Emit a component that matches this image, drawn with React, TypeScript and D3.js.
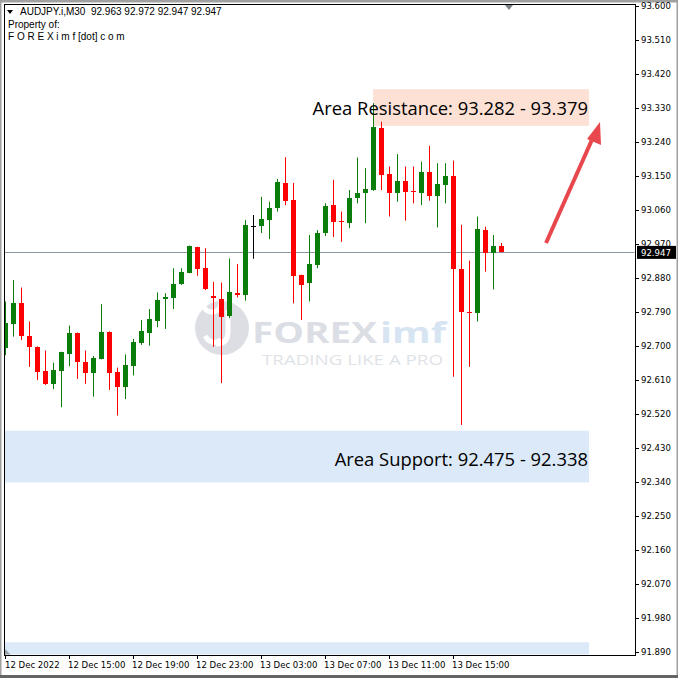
import React from "react";
import * as d3 from "d3";

const openP = [92.693, 92.757, 92.814, 92.726, 92.697, 92.633, 92.598, 92.634, 92.677, 92.734, 92.658, 92.627, 92.665, 92.737, 92.631, 92.590, 92.647, 92.706, 92.734, 92.766, 92.823, 92.827, 92.863, 92.893, 92.961, 92.905, 92.832, 92.824, 92.779, 92.840, 92.834, 93.016, 93.018, 93.033, 93.065, 93.131, 93.086, 92.887, 92.865, 92.914, 92.998, 93.072, 93.030, 93.024, 93.090, 93.103, 93.112, 93.277, 93.155, 93.103, 93.137, 93.110, 93.105, 93.161, 93.097, 93.125, 93.149, 92.903, 92.790, 92.786, 93.006, 92.945, 92.963];
const highP = [92.817, 92.874, 92.854, 92.764, 92.698, 92.687, 92.655, 92.684, 92.753, 92.735, 92.687, 92.673, 92.810, 92.738, 92.642, 92.677, 92.718, 92.768, 92.797, 92.841, 92.839, 92.905, 92.905, 92.965, 92.962, 92.958, 92.869, 92.867, 92.931, 92.916, 93.033, 93.046, 93.094, 93.081, 93.141, 93.199, 93.131, 92.888, 92.993, 93.006, 93.077, 93.139, 93.055, 93.112, 93.198, 93.170, 93.342, 93.293, 93.174, 93.207, 93.174, 93.174, 93.187, 93.229, 93.183, 93.183, 93.190, 93.020, 92.925, 93.042, 93.015, 92.993, 92.972];
const lowP = [92.675, 92.724, 92.715, 92.644, 92.609, 92.596, 92.585, 92.537, 92.646, 92.612, 92.599, 92.565, 92.664, 92.583, 92.515, 92.559, 92.621, 92.702, 92.700, 92.749, 92.744, 92.797, 92.861, 92.892, 92.885, 92.847, 92.697, 92.601, 92.773, 92.828, 92.819, 92.930, 92.998, 92.982, 93.055, 93.072, 92.812, 92.768, 92.817, 92.905, 92.990, 92.988, 92.975, 93.011, 93.077, 93.024, 93.110, 93.112, 93.042, 93.081, 93.031, 93.077, 93.072, 93.084, 93.013, 93.077, 92.618, 92.490, 92.644, 92.764, 92.896, 92.849, 92.947];
const closeP = [92.759, 92.814, 92.726, 92.696, 92.631, 92.598, 92.636, 92.682, 92.734, 92.656, 92.627, 92.668, 92.737, 92.629, 92.590, 92.649, 92.711, 92.740, 92.770, 92.821, 92.830, 92.863, 92.896, 92.964, 92.902, 92.849, 92.826, 92.777, 92.841, 92.834, 93.020, 93.016, 93.035, 93.065, 93.134, 93.084, 92.885, 92.861, 92.916, 92.998, 93.070, 93.028, 93.027, 93.092, 93.105, 93.114, 93.280, 93.152, 93.103, 93.137, 93.108, 93.106, 93.161, 93.097, 93.128, 93.149, 92.902, 92.790, 92.786, 93.008, 92.945, 92.965, 92.947];

const priceTicks = [93.6, 93.51, 93.42, 93.33, 93.24, 93.15, 93.06, 92.97, 92.88, 92.79, 92.7, 92.61, 92.52, 92.43, 92.34, 92.25, 92.16, 92.07, 91.98, 91.89];
const timeLabels = ["12 Dec 2022", "12 Dec 15:00", "12 Dec 19:00", "12 Dec 23:00", "13 Dec 03:00", "13 Dec 07:00", "13 Dec 11:00", "13 Dec 15:00"];
const timeIndex = [0, 8, 16, 24, 32, 40, 48, 56];

const currentPrice = 92.947;
const resistance = [93.282, 93.379];
const support = [92.475, 92.338];
const lowerZone = [91.915, 91.85];
const resistanceStartIndex = 46;

const W = 678;
const H = 678;
const L = 4;
const R = 635;
const T = 4;
const B = 655;

export default function App() {
  const y = d3.scaleLinear().domain([91.89, 93.6]).range([651.7, 5.7]);
  const x = d3.scaleLinear().domain([0, 62]).range([5, 501]);
  const font = "Liberation Sans, Arial, sans-serif";
  const axisFont = "DejaVu Sans Condensed, Liberation Sans, sans-serif";
  const n = openP.length;
  const candles = d3.range(n).map((i) => {
    const o = openP[i], c = closeP[i];
    const color = o === c ? "#000000" : c > o ? "#0a7d0a" : "#ff0000";
    const cx = Math.round(x(i));
    const top = Math.round(y(Math.max(o, c)));
    const bot = Math.round(y(Math.min(o, c)));
    return (
      <g key={i}>
        <line x1={cx + 0.5} x2={cx + 0.5} y1={y(highP[i])} y2={y(lowP[i])} stroke={color} strokeWidth={1} />
        <rect x={cx - 2} width={5} y={top} height={Math.max(1, bot - top)} fill={color} />
      </g>
    );
  });

  const ySup0 = y(support[0]);
  const ySup1 = y(support[1]);
  const yRes0 = y(resistance[1]);
  const yRes1 = y(resistance[0]);
  const yCur = y(currentPrice);

  return (
    <svg width={W} height={H} style={{ position: "absolute", left: 0, top: 0, background: "#fff" }} fontFamily={font}>
      <defs>
        <clipPath id="plot">
          <rect x={L + 0.5} y={T + 0.5} width={R - L - 1} height={B - T - 1} />
        </clipPath>
      </defs>
      <rect x={0} y={0} width={W} height={H} fill="#ffffff" />
      {/* window frame */}
      <rect x={0} y={0} width={W} height={2.5} fill="#a0a0a0" />
      <rect x={0} y={0} width={1.5} height={H} fill="#a0a0a0" />
      <rect x={W - 1.5} y={0} width={1.5} height={H} fill="#a0a0a0" />
      <rect x={0} y={H - 3} width={W} height={3} fill="#646464" />

      <g clipPath="url(#plot)">
        {/* zones */}
        <rect x={L} y={ySup0} width={589 - L} height={ySup1 - ySup0} fill="#dbe9f8" />
        <rect x={L} y={y(lowerZone[0])} width={589 - L} height={y(lowerZone[1]) - y(lowerZone[0])} fill="#dbe9f8" />
        <rect x={x(resistanceStartIndex)} y={yRes0} width={589 - x(resistanceStartIndex)} height={yRes1 - yRes0} fill="#fce1d4" />

        {/* watermark */}
        <g opacity={0.9}>
          <circle cx={222} cy={328} r={27} fill="#d9dbe2" />
          <path d="M 212 312 a 9 9 0 1 1 0.1 0 M 205 336 q 6 10 16 4" fill="none" stroke="#ffffff" strokeWidth={5} />
          <path d="M 228 310 l 0 22 q 0 12 -12 12" fill="none" stroke="#ffffff" strokeWidth={5} />
          <text x={252} y={343} fontSize={28} fontWeight="bold" fill="#d9dbe3" fontFamily="Open Sans, Liberation Sans, sans-serif" textLength={125} lengthAdjust="spacingAndGlyphs">FOREX</text>
          <text x={380} y={343} fontSize={28} fontWeight="bold" fill="#d3e2f1" fontFamily="Open Sans, Liberation Sans, sans-serif" textLength={66} lengthAdjust="spacingAndGlyphs">imf</text>
          <text x={262} y={365} fontSize={14} fill="#dcdfe5" fontFamily="Open Sans, Liberation Sans, sans-serif" textLength={181} lengthAdjust="spacingAndGlyphs">TRADING LIKE A PRO</text>
        </g>

        {/* current price line */}
        <line x1={L} x2={R} y1={Math.round(yCur) + 0.5} y2={Math.round(yCur) + 0.5} stroke="#8a96a0" strokeWidth={1} />

        {candles}

        {/* zone labels */}
        <text x={588} y={115} textAnchor="end" fontSize={18.4} fill="#000" fontFamily="Open Sans, Liberation Sans, sans-serif">Area Resistance: 93.282 - 93.379</text>
        <text x={588} y={466} textAnchor="end" fontSize={18.4} fill="#000" fontFamily="Open Sans, Liberation Sans, sans-serif">Area Support: 92.475 - 92.338</text>

        {/* arrow */}
        <line x1={546} y1={243} x2={595} y2={133} stroke="#e8484d" strokeWidth={4} strokeLinecap="butt" />
        <polygon points="600,122 601,145 587,139" fill="#e8484d" />

        {/* markers */}
        <polygon points="505,5 513,5 509,10" fill="#7a8288" />
        <polygon points="5,649 5,655 11,655" fill="#9aa2aa" />
      </g>

      {/* frame */}
      <rect x={L + 0.5} y={T + 0.5} width={R - L} height={B - T} fill="none" stroke="#000" strokeWidth={1} />

      {/* price axis */}
      {priceTicks.map((p) => (
        <g key={p}>
          <line x1={R + 0.5} x2={R + 4} y1={Math.round(y(p)) + 0.5} y2={Math.round(y(p)) + 0.5} stroke="#000" />
          <text x={641} y={y(p) + 3.5} fontSize={9.5} fill="#000" fontFamily={axisFont}>{p.toFixed(3)}</text>
        </g>
      ))}
      <rect x={637} y={yCur - 6.5} width={39} height={13} fill="#000" />
      <text x={641} y={yCur + 3.5} fontSize={9.5} fill="#fff" fontFamily={axisFont}>{currentPrice.toFixed(3)}</text>

      {/* time axis */}
      {timeLabels.map((t, k) => {
        const tx = Math.round(x(timeIndex[k]));
        return (
          <g key={t}>
            <line x1={tx + 0.5} x2={tx + 0.5} y1={B} y2={B + 4} stroke="#000" />
            <text x={k === 0 ? 5 : tx - 1} y={668} fontSize={9.5} fill="#000" fontFamily={axisFont}>{t}</text>
          </g>
        );
      })}

      {/* header */}
      <polygon points="7,10 13,10 10,14" fill="#000" />
      <text x={20} y={15} fontSize={10} fill="#000" style={{ whiteSpace: "pre" }}>{"AUDJPY.i,M30  92.963 92.972 92.947 92.947"}</text>
      <text x={8} y={28} fontSize={10} fill="#000">Property of:</text>
      <text x={8} y={40} fontSize={10} fill="#000">F O R E X i m f [dot] c o m</text>
    </svg>
  );
}
